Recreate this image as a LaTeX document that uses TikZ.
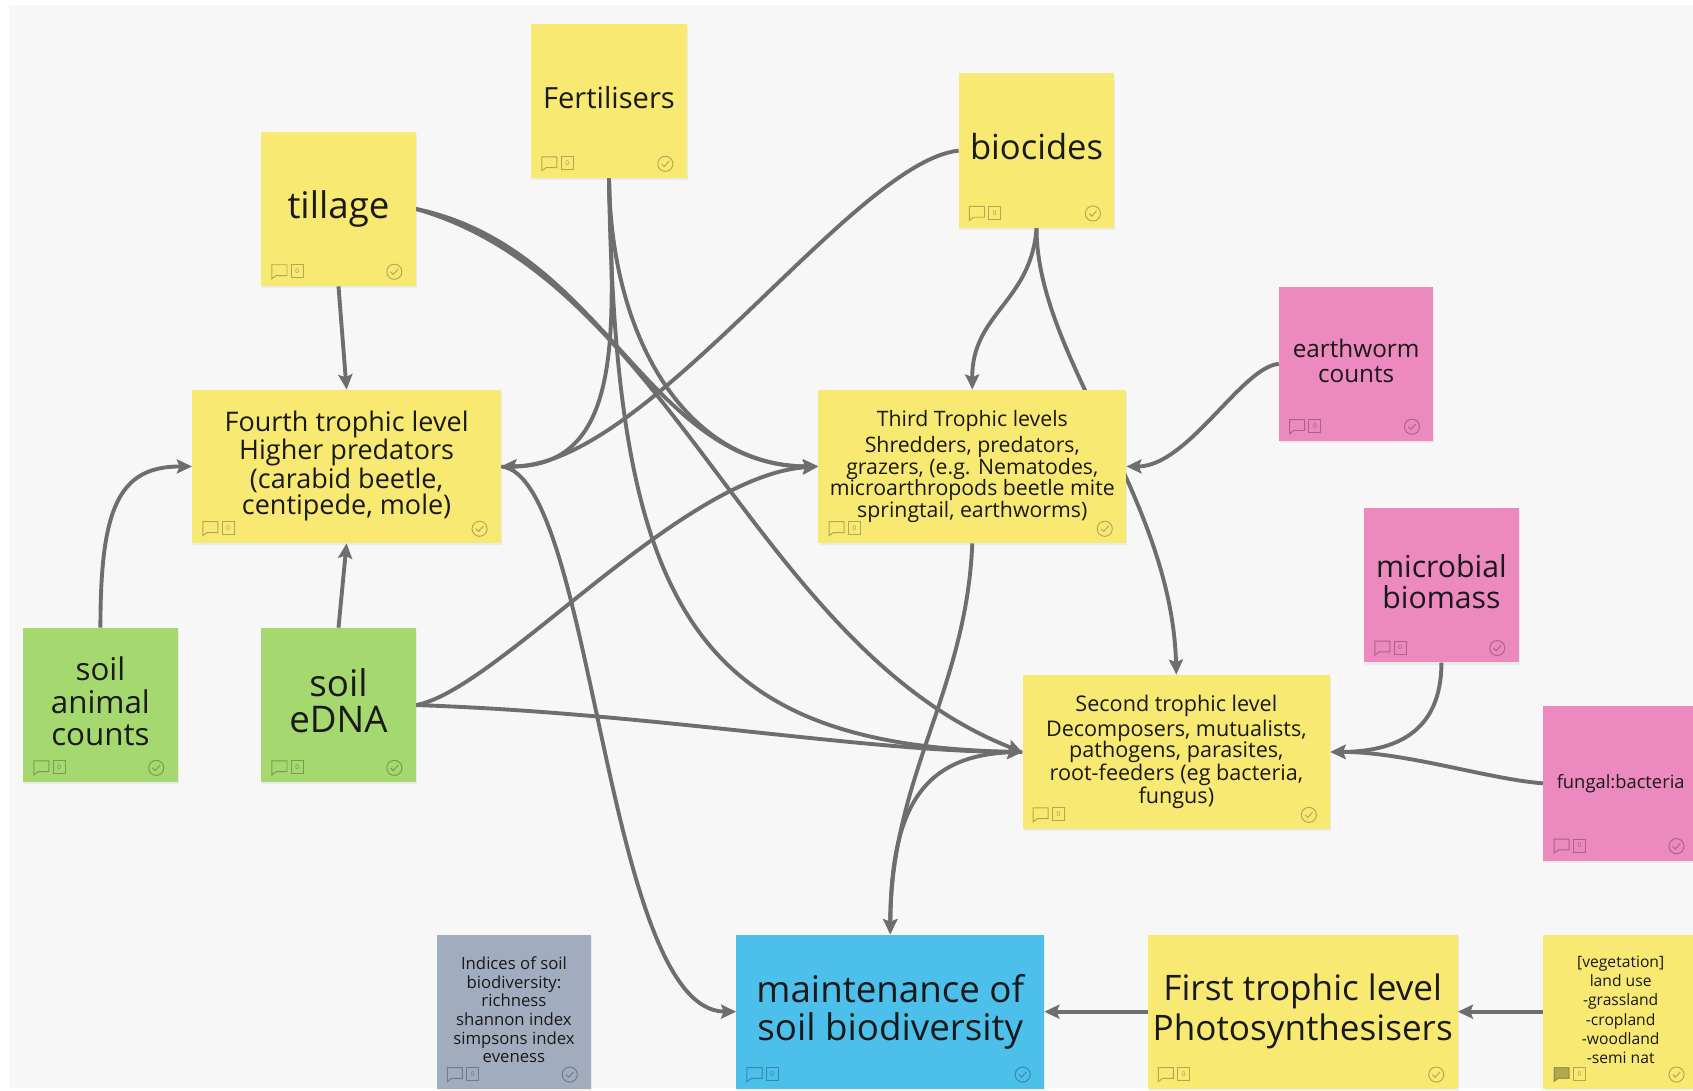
\documentclass[tikz,border=0pt]{standalone}
\usepackage{fontspec}
\setmainfont{Open Sans}
\usetikzlibrary{arrows.meta,shadows}

\definecolor{bgc}{HTML}{F7F7F7}
\definecolor{ylw}{HTML}{F8E973}
\definecolor{pnk}{HTML}{EC89BF}
\definecolor{grn}{HTML}{A5D86F}
\definecolor{blu}{HTML}{4DBFEB}
\definecolor{slt}{HTML}{A2ACBF}
\definecolor{wire}{HTML}{6E6E6E}

\newcommand\fsz[2]{\fontsize{#1pt}{#2pt}\selectfont}
% fixed descender depth on the last line, so every sticky text sits on the same line box
\newcommand\ld{\rule[-0.25em]{0pt}{0.25em}}

\pgfdeclarelayer{back}
\pgfdeclarelayer{wires}
\pgfsetlayers{back,wires,main}

\tikzset{
  sticky/.style={rectangle, minimum width=143pt, minimum height=143pt,
    inner sep=2pt, align=center, text=black!90,
    drop shadow={opacity=0.10, shadow xshift=1pt, shadow yshift=-2pt}},
  widebox/.style={sticky, minimum width=286pt},
  link/.style={draw=wire, line width=3.6pt,
    -{Stealth[length=14pt,width=13pt,inset=2.5pt]}},
  iconline/.style={draw=black, draw opacity=0.28, line width=0.9pt},
}

% comment bubble, counter box and check circle in the bottom corners of a sticky
\newcommand\tags[2][]{%
  \begin{scope}[shift={(#2.south west)}]
    \path[iconline,#1] (10,-7) -- (10,-20) -- (24,-20) -- (24,-10) -- (14,-10) -- cycle;
    \draw[iconline] (28,-8) rectangle (39,-20);
    \node[inner sep=0pt, text=black, text opacity=0.35, font=\fsz{6}{6}] (#2zero) at (33.5,-14) {0};
  \end{scope}
  \begin{scope}[shift={(#2.south east)}]
    \draw[iconline] (-20,-13.5) circle (7pt);
    \draw[iconline] (-23.5,-13.5) -- (-21,-11) -- (-16.5,-16);
  \end{scope}
}

\begin{document}
\begin{tikzpicture}[x=1pt, y=-1pt]
\useasboundingbox (0,0) rectangle (1568,1010);
\begin{pgfonlayer}{back}
  \fill[white] (0,0) rectangle (1568,1010);
  \fill[bgc] (8,5) rectangle (1568,1008);
\end{pgfonlayer}

% pressures
\node[sticky, fill=ylw, minimum width=144pt, font=\fsz{27}{28}] (fert) at (564,93.5) {Fertilisers\ld};
\node[sticky, fill=ylw, font=\fsz{34}{35}] (till) at (313.5,193.5) {tillage\ld};
\node[sticky, fill=ylw, minimum width=144pt, font=\fsz{32}{33}] (bioc) at (960,139.5) {biocides\ld};

% trophic levels
\node[widebox, fill=ylw, minimum height=142pt, font=\fsz{25}{24.7}] (fourth) at (321,432)
  {Fourth trophic level\\Higher predators\\(carabid beetle,\\centipede, mole)\ld};
\node[widebox, fill=ylw, minimum width=285pt, minimum height=142pt, font=\fsz{19.7}{20}] (third) at (900.5,432)
  {Third Trophic levels\\[4pt]Shredders, predators,\\grazers, (e.g. Nematodes,\\microarthropods beetle mite\\springtail, earthworms)\ld};
\node[widebox, fill=ylw, minimum width=285pt, font=\fsz{20}{20}] (second) at (1089.5,696.5)
  {Second trophic level\\[3pt]Decomposers, mutualists,\\pathogens, parasites,\\root-feeders (eg bacteria,\\fungus)\ld};
\node[widebox, fill=ylw, minimum width=287pt, font=\fsz{32.5}{37}] (first) at (1206.5,937)
  {First trophic level\\Photosynthesisers\ld};

% measurements
\node[sticky, fill=pnk, font=\fsz{22.5}{23}] (worm) at (1256,337) {earthworm\\counts\ld};
\node[sticky, fill=pnk, font=\fsz{28}{29}] (micro) at (1335,542) {microbial\\biomass\ld};
\node[sticky, fill=pnk, font=\fsz{17}{18}] (fungal) at (1501,725.5) {fungal:bacteria\ld};
\node[sticky, fill=grn, font=\fsz{29}{30}] (animal) at (93,653) {soil\\animal\\counts\ld};
\node[sticky, fill=grn, font=\fsz{34}{33}] (edna) at (313.5,653) {soil\\eDNA\ld};
\node[sticky, fill=slt, font=\fsz{15.5}{17.3}] (indices) at (476,937)
  {Indices of soil\\biodiversity:\\richness\\shannon index\\simpsons index\\eveness\ld};
\node[sticky, fill=ylw, font=\fsz{14.5}{17.8}] (veg) at (1501,937)
  {{[}vegetation{]}\\land use\\-grassland\\-cropland\\-woodland\\-semi nat\ld};

% goal
\node[widebox, fill=blu, minimum width=285pt, font=\fsz{34}{35}] (maint) at (824.5,937)
  {maintenance of\\soil biodiversity\ld};

\tags{fert}\tags{till}\tags{bioc}\tags{fourth}\tags{third}\tags{second}\tags{first}
\tags{worm}\tags{micro}\tags{fungal}\tags{animal}\tags{edna}\tags{indices}
\tags[fill=black, fill opacity=0.28]{veg}\tags{maint}

\begin{pgfonlayer}{wires}
  \draw[link] (till.south) -- (fourth.north);
  \draw[link] (till.east) .. controls (560,230) and (600,432) .. (third.west);
  \draw[link] (till.east) .. controls (620,260) and (700,600) .. (second.west);
  \draw[link] (fert.south) .. controls (568,300) and (580,432) .. (fourth.east);
  \draw[link] (fert.south) .. controls (566,320) and (640,432) .. (third.west);
  \draw[link] (fert.south) .. controls (570,560) and (640,690) .. (second.west);
  \draw[link] (bioc.west) .. controls (790,150) and (600,432) .. (fourth.east);
  \draw[link] (bioc.south) .. controls (955,280) and (900,290) .. (third.north);
  \draw[link] (bioc.south) .. controls (960,330) and (1085,460) .. (second.north);
  \draw[link] (worm.west) .. controls (1150,340) and (1100,432) .. (third.east);
  \draw[link] (third.south) .. controls (895,640) and (825,720) .. (maint.north);
  \draw[link] (second.west) .. controls (860,696) and (825,740) .. (maint.north);
  \draw[link] (edna.north) -- (fourth.south);
  \draw[link] (edna.east) .. controls (460,640) and (630,440) .. (third.west);
  \draw[link] (edna.east) .. controls (600,660) and (800,696) .. (second.west);
  \draw[link] (animal.north) .. controls (93,470) and (110,432) .. (fourth.west);
  \draw[link] (fourth.east) .. controls (550,440) and (560,936) .. (maint.west);
  \draw[link] (micro.south) .. controls (1335,680) and (1290,696) .. (second.east);
  \draw[link] (fungal.west) .. controls (1380,722) and (1300,696) .. (second.east);
  \draw[link] (first.west) -- (maint.east);
  \draw[link] (veg.west) -- (first.east);
\end{pgfonlayer}
\end{tikzpicture}
\end{document}
